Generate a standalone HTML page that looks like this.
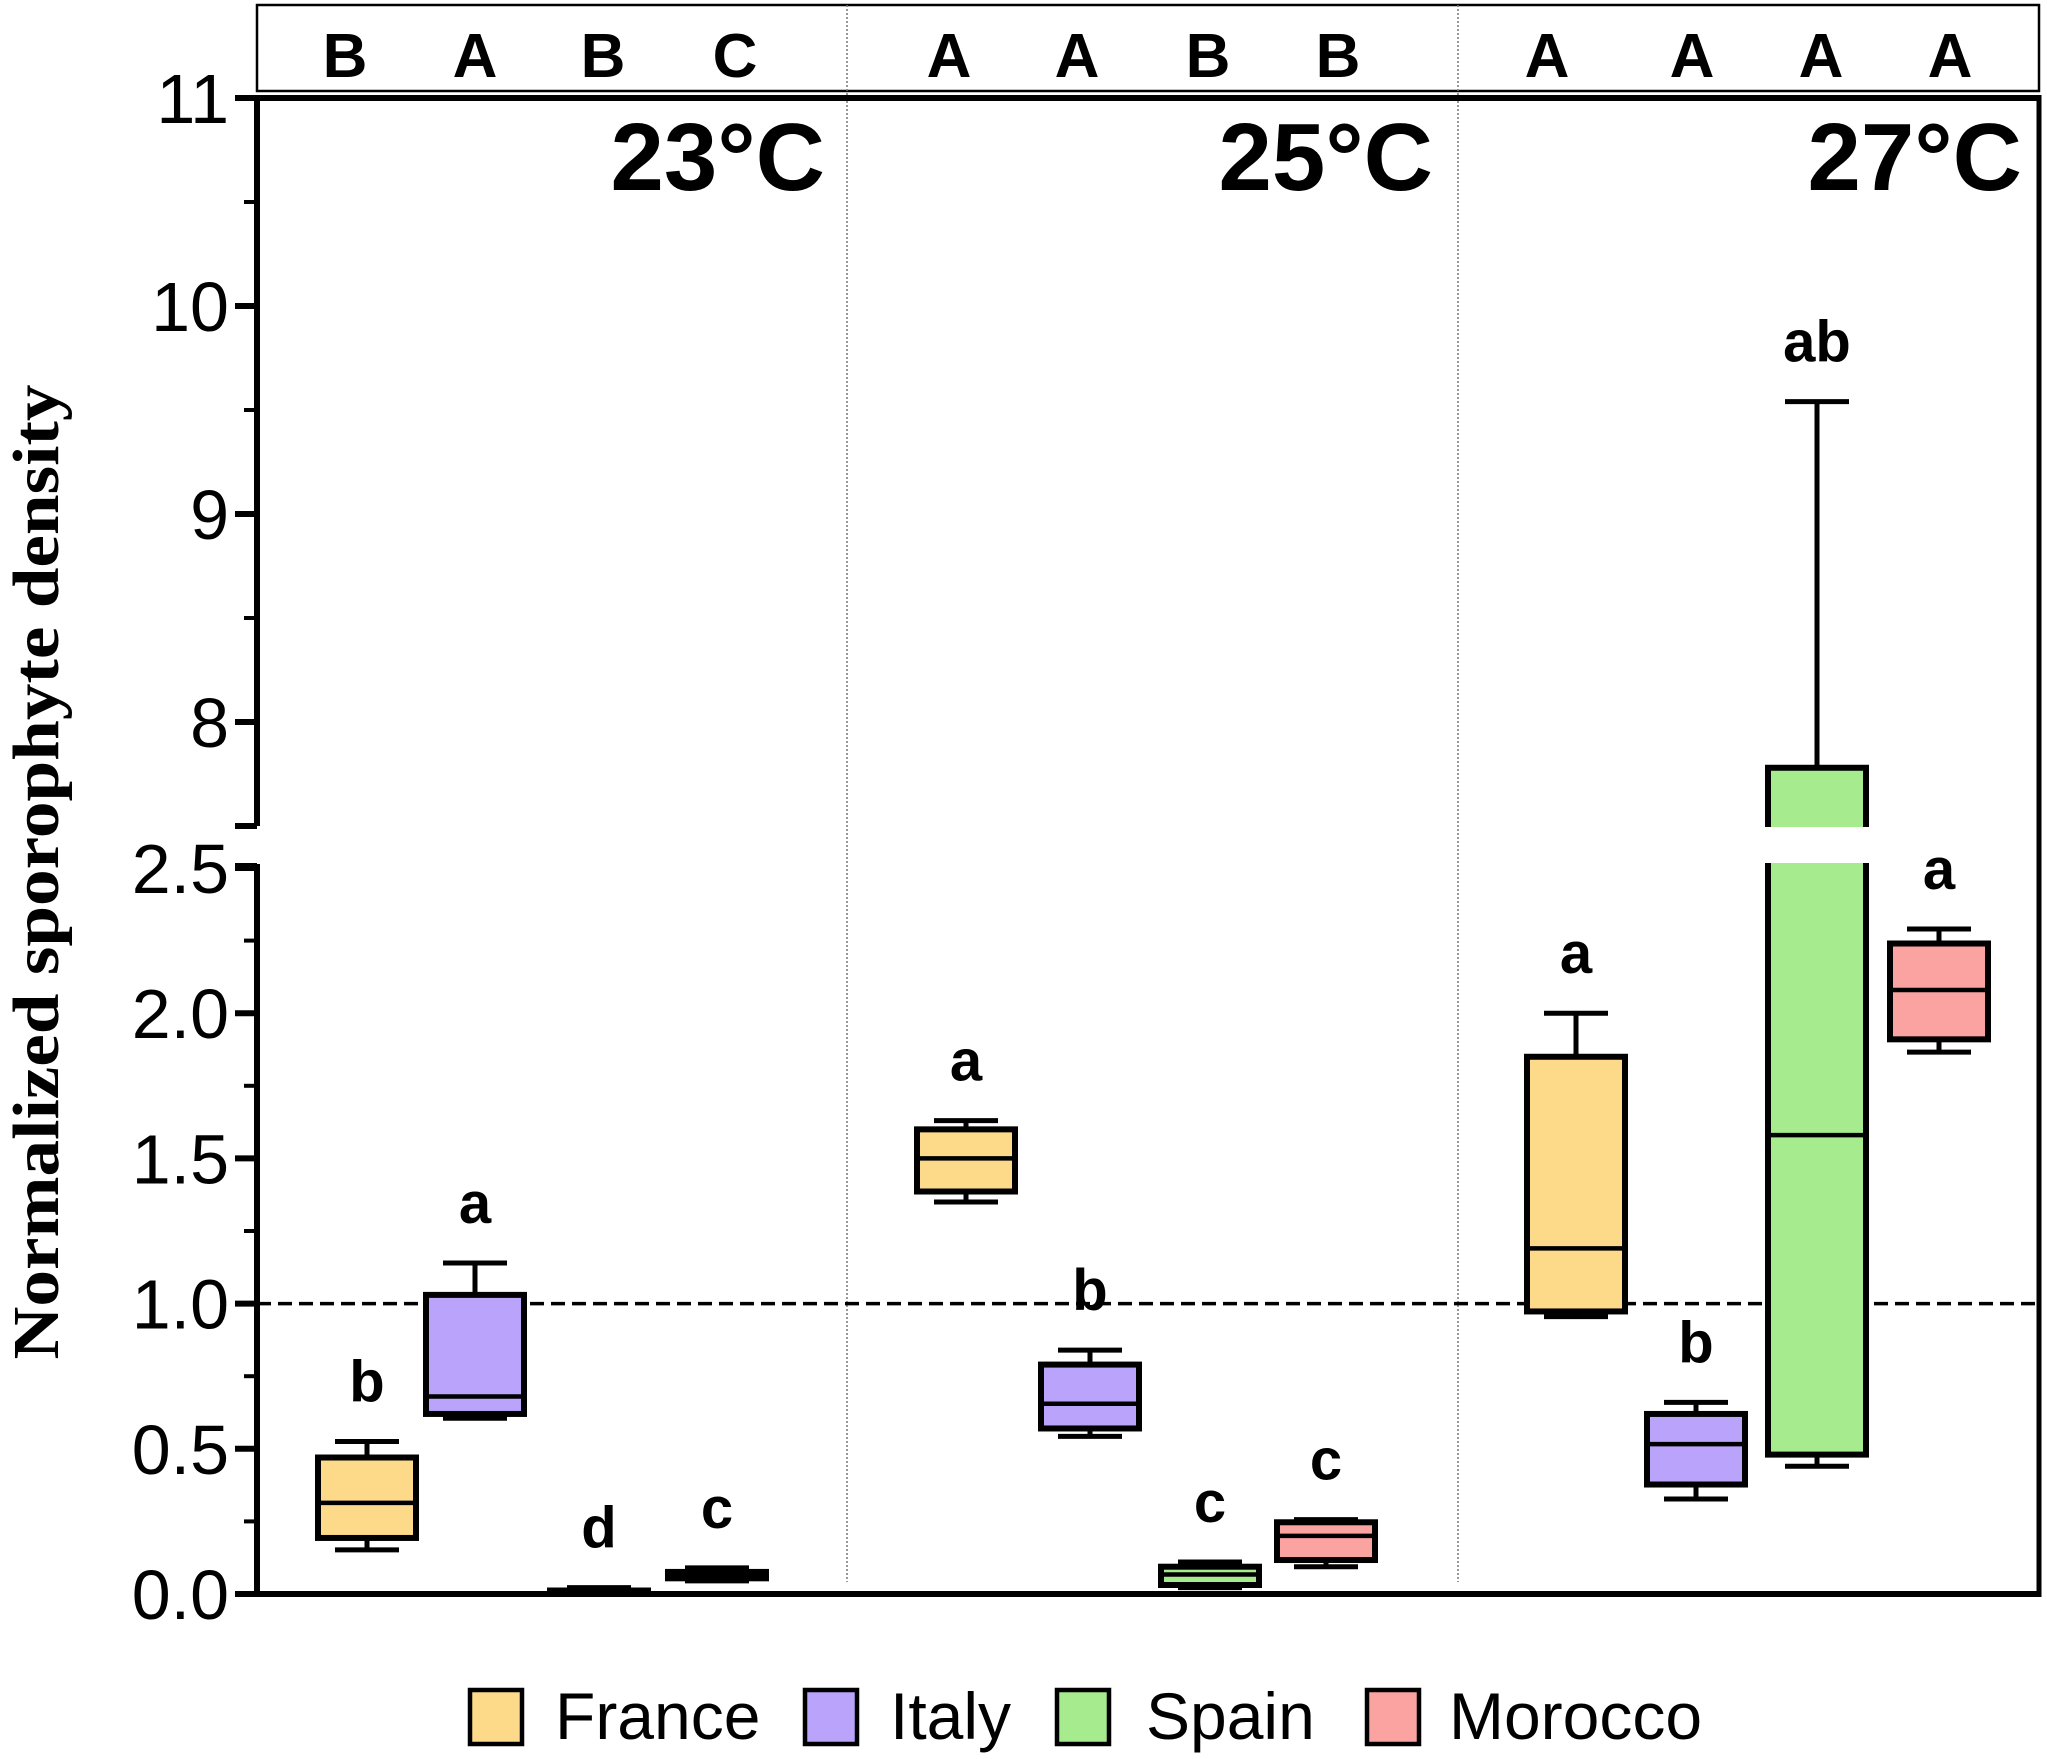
<!DOCTYPE html>
<html><head><meta charset="utf-8"><style>html,body{margin:0;padding:0;background:#fff}svg{display:block}</style></head>
<body>
<svg id="chart" xmlns="http://www.w3.org/2000/svg" width="2047" height="1759" viewBox="0 0 2047 1759"></svg>
<script>
const temps = ["23°C","25°C","27°C"];
const groupLetters = [["B","A","B","C"],["A","A","B","B"],["A","A","A","A"]];
const countries = ["France","Italy","Spain","Morocco"];
const colors = ["#FDDA8A","#B9A3FB","#A6EB8E","#FBA3A0"];
// [min, q1, median, q3, max] per temp per country
const stats23 = [[0.152,0.193,0.314,0.47,0.525],[0.605,0.62,0.68,1.03,1.14],[0.002,0.004,0.008,0.012,0.022],[0.045,0.054,0.067,0.076,0.09]];
const stats25 = [[1.35,1.386,1.50,1.60,1.63],[0.543,0.57,0.655,0.79,0.84],[0.022,0.031,0.067,0.094,0.11],[0.094,0.117,0.2,0.247,0.256]];
const stats27 = [[0.955,0.973,1.19,1.85,2.0],[0.327,0.377,0.516,0.62,0.66],[0.44,0.48,1.58,7.78,9.54],[1.866,1.91,2.08,2.24,2.29]];
const sigLetters = [["b","a","d","c"],["a","b","c","c"],["a","b","ab","a"]];
const lowerTicks = [0,0.5,1.0,1.5,2.0,2.5];
const lowerTickLabels = ["0.0","0.5","1.0","1.5","2.0","2.5"];
const upperTicks = [8,9,10,11];
const upperTickLabels = ["8","9","10","11"];

const NS="http://www.w3.org/2000/svg";
const svg=document.getElementById('chart');
function el(tag,attrs,parent){const e=document.createElementNS(NS,tag);for(const k in attrs)e.setAttribute(k,attrs[k]);(parent||svg).appendChild(e);return e;}
const AX=257, RX=2039, TOP=98;
function y(v){ if(v<=2.5) return 1594-(v)*290.4; return 826-(v-7.5)*208; }
const colX=[[367,475,599,717],[966,1090,1210,1326],[1576,1696,1817,1939]];
const topLetterX=[[345,475,603,735],[949,1077,1208,1338],[1547,1692,1821,1950]];
const BW=98, CW=64;

// top box
let g=el('g',{});  
el('rect',{x:AX,y:5,width:RX-AX,height:86,fill:'none',stroke:'#000','stroke-width':2.5},g);
groupLetters.forEach((arr,t)=>arr.forEach((L,i)=>{const tx=el('text',{x:topLetterX[t][i],y:77,'text-anchor':'middle','font-family':'Liberation Sans, sans-serif','font-weight':'bold','font-size':62},g);tx.textContent=L;

}));

// dividers
[847,1458].forEach(x=>{const l=el('line',{x1:x,y1:5,x2:x,y2:1582,stroke:'#777','stroke-width':1.5,'stroke-dasharray':'2 2'});

});

// dashed reference
const ref=el('line',{x1:AX,y1:y(1),x2:RX,y2:y(1),stroke:'#000','stroke-width':3.5,'stroke-dasharray':'14 7'});



// axes
const ax=el('g',{});
el('line',{x1:AX,y1:TOP-3,x2:AX,y2:826,stroke:'#000','stroke-width':6},ax);
el('line',{x1:AX,y1:864,x2:AX,y2:1597,stroke:'#000','stroke-width':6},ax);
el('line',{x1:AX-22,y1:826,x2:AX,y2:826,stroke:'#000','stroke-width':6},ax);
el('line',{x1:AX-22,y1:866,x2:AX,y2:866,stroke:'#000','stroke-width':6},ax);
el('line',{x1:AX,y1:TOP,x2:RX,y2:TOP,stroke:'#000','stroke-width':6},ax);
el('line',{x1:RX,y1:TOP-3,x2:RX,y2:1597,stroke:'#000','stroke-width':5},ax);
el('line',{x1:AX-22,y1:1594,x2:RX,y2:1594,stroke:'#000','stroke-width':6},ax);
function tick(v,lab){el('line',{x1:AX-22,y1:y(v),x2:AX,y2:y(v),stroke:'#000','stroke-width':6},ax);
 const t=el('text',{x:AX-28,y:y(v)+25,'text-anchor':'end','font-family':'Liberation Sans, sans-serif','font-size':70},ax);t.textContent=lab;
 
 }
lowerTicks.forEach((v,i)=>tick(v,lowerTickLabels[i]));
upperTicks.forEach((v,i)=>tick(v,upperTickLabels[i]));
[0.25,0.75,1.25,1.75,2.25].forEach(v=>el('line',{x1:AX-13,y1:y(v),x2:AX,y2:y(v),stroke:'#000','stroke-width':4},ax));
[8.5,9.5,10.5].forEach(v=>el('line',{x1:AX-13,y1:y(v),x2:AX,y2:y(v),stroke:'#000','stroke-width':4},ax));
const yt=el('text',{transform:'translate(58,872) rotate(-90)','text-anchor':'middle','font-family':'Liberation Serif, serif','font-weight':'bold','font-size':66,textLength:975,lengthAdjust:'spacingAndGlyphs'});
yt.textContent='Normalized sporophyte density';



// temperature labels
[825,1433,2022].forEach((x,t)=>{const tx=el('text',{x:x,y:190,'text-anchor':'end','font-family':'Liberation Sans, sans-serif','font-weight':'bold','font-size':96});tx.textContent=temps[t];

});

// boxes
const allStats=[stats23,stats25,stats27];
allStats.forEach((st,t)=>st.forEach((s,i)=>{
 const cx=colX[t][i];const bg=el('g',{});
 
 
 const [mn,q1,md,q3,mx]=s;
 el('line',{x1:cx,y1:y(mx),x2:cx,y2:y(q3),stroke:'#000','stroke-width':5},bg);
 el('line',{x1:cx,y1:y(q1),x2:cx,y2:y(mn),stroke:'#000','stroke-width':5},bg);
 el('line',{x1:cx-CW/2,y1:y(mx),x2:cx+CW/2,y2:y(mx),stroke:'#000','stroke-width':5},bg);
 el('line',{x1:cx-CW/2,y1:y(mn),x2:cx+CW/2,y2:y(mn),stroke:'#000','stroke-width':5},bg);
 el('rect',{x:cx-BW/2,y:y(q3),width:BW,height:Math.max(2,y(q1)-y(q3)),fill:colors[i],stroke:'#000','stroke-width':6},bg);
 el('line',{x1:cx-BW/2,y1:y(md),x2:cx+BW/2,y2:y(md),stroke:'#000','stroke-width':4.5},bg);
 if(q3>2.5){el('rect',{x:cx-BW/2-6,y:827,width:BW+12,height:36,fill:'#fff'},bg);}
 const lt=el('text',{x:cx,y:y(mx)-40,'text-anchor':'middle','font-family':'Liberation Sans, sans-serif','font-weight':'bold','font-size':58},bg);lt.textContent=sigLetters[t][i];
 
 
}));

// legend
const lg=el('g',{});
const lsx=[470,805,1057,1367], ltx=[555,890,1146,1449];
countries.forEach((c,i)=>{const e=el('g',{},lg);
 
 
 el('rect',{x:lsx[i],y:1690,width:52,height:54,fill:colors[i],stroke:'#000','stroke-width':4.5},e);
 const t=el('text',{x:ltx[i],y:1739,'font-family':'Liberation Sans, sans-serif','font-size':66},e);t.textContent=c;});
</script>
</body></html>
